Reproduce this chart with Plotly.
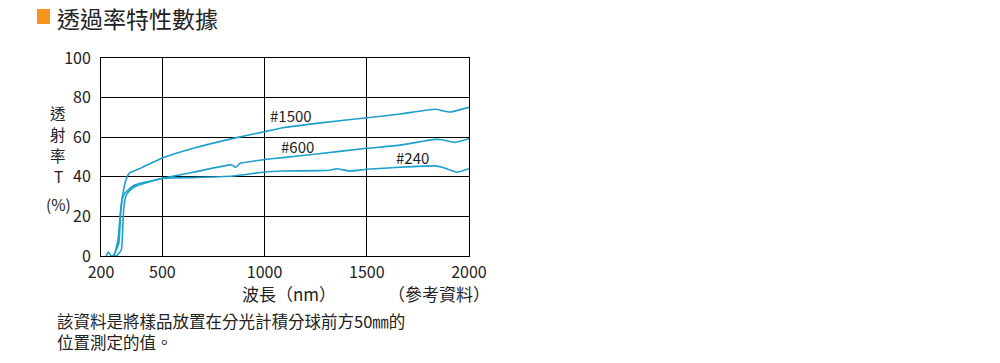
import plotly.graph_objects as go

# ---- data ----
wl_1500 = [225, 235, 250, 263, 283, 296, 308, 324, 340, 397, 500, 652, 847, 1000, 1090, 1255, 1500, 1663, 1834, 1870, 1907, 2000]
t_1500 = [0, 2, 0, 0, 8, 23, 32, 39, 42, 44.5, 49.5, 54.4, 59.4, 62.8, 64.8, 67, 69.8, 71.7, 74.1, 73.4, 72.7, 75.1]

wl_600 = [245, 259, 287, 296, 303, 316, 332, 365, 500, 652, 839, 860, 880, 1000, 1090, 1255, 1500, 1663, 1834, 1870, 1932, 2000]
t_600 = [0, 0, 6.4, 21.5, 28.3, 31.6, 33.3, 35.9, 39.2, 42.3, 46, 44.8, 46.8, 48.7, 49.7, 51.5, 54.4, 56, 58.9, 58.7, 57.4, 59.2]

wl_240 = [255, 275, 299, 308, 312, 324, 340, 365, 500, 652, 847, 1000, 1090, 1255, 1320, 1353, 1418, 1500, 1663, 1834, 1870, 1940, 2000]
t_240 = [0, 0, 3, 18, 25, 30.8, 33, 35, 39.3, 39.6, 40.4, 42.4, 42.9, 43.1, 43.3, 44.1, 42.9, 43.8, 44.8, 45.5, 44.8, 42.3, 44.1]

series = [("#1500", wl_1500, t_1500), ("#600", wl_600, t_600), ("#240", wl_240, t_240)]
label_pos = {"#1500": (1130, 71), "#600": (1163, 55.5), "#240": (1726, 50)}

x_ticks = [200, 500, 1000, 1500, 2000]
y_ticks = [0, 20, 40, 60, 80, 100]

FONT = "Noto Sans CJK TC"
LINE = "#1d9fcc"
TXT = "#222222"

# plot area in page pixels (page has an 8px body offset)
PX0, PX1, PY0, PY1 = 101, 469, 58, 256
W, H = PX1 - PX0, PY1 - PY0


def px(x):
    return (x - PX0) / W


def py(y):
    return (PY1 - y) / H


fig = go.Figure()
for name, x, y in series:
    fig.add_trace(go.Scatter(x=x, y=y, mode="lines", name=name,
                             line=dict(color=LINE, width=1.6, shape="spline", smoothing=0.4),
                             showlegend=False, hoverinfo="skip"))
    lx, ly = label_pos[name]
    fig.add_annotation(x=lx, y=ly, text=name, showarrow=False,
                       font=dict(family=FONT, size=15, color=TXT))

fig.update_xaxes(range=[200, 2000], tickvals=x_ticks, ticktext=[str(v) for v in x_ticks],
                 showgrid=True, gridcolor="black", gridwidth=1,
                 showline=True, linecolor="black", linewidth=1, mirror=True,
                 zeroline=False, ticks="outside", ticklen=2, tickcolor="rgba(0,0,0,0)",
                 tickfont=dict(family=FONT, size=16, color=TXT))
fig.update_yaxes(range=[0, 100], tickvals=y_ticks,
                 showgrid=True, gridcolor="black", gridwidth=1,
                 showline=True, linecolor="black", linewidth=1, mirror=True,
                 zeroline=False, ticks="outside", ticklen=6, tickcolor="rgba(0,0,0,0)",
                 tickfont=dict(family=FONT, size=16, color=TXT))

# title
fig.add_shape(type="rect", xref="paper", yref="paper",
              x0=px(37), x1=px(50), y0=py(24), y1=py(9),
              fillcolor="#f7941d", line=dict(width=0))
fig.add_annotation(xref="paper", yref="paper", x=px(55), y=py(18),
                   text="透過率特性數據", showarrow=False, xanchor="left", yanchor="middle",
                   font=dict(family=FONT, size=23, color=TXT))

# y axis title (stacked)
for txt, yy in [("透", 113), ("射", 134), ("率", 155), ("T", 176), ("(%)", 204)]:
    fig.add_annotation(xref="paper", yref="paper", x=px(58), y=py(yy),
                       text=txt, showarrow=False, xanchor="center", yanchor="middle",
                       font=dict(family=FONT, size=15.5, color=TXT))

# x axis titles
fig.add_annotation(xref="paper", yref="paper", x=px(289), y=py(293),
                   text="波長（nm）", showarrow=False, xanchor="center", yanchor="middle",
                   font=dict(family=FONT, size=17, color=TXT))
fig.add_annotation(xref="paper", yref="paper", x=px(492), y=py(293),
                   text="（參考資料）", showarrow=False, xanchor="right", yanchor="middle",
                   font=dict(family=FONT, size=17, color=TXT))

# note
fig.add_annotation(xref="paper", yref="paper", x=px(55), y=py(331),
                   text="該資料是將樣品放置在分光計積分球前方50㎜的<br>位置測定的值。",
                   showarrow=False, align="left",
                   xanchor="left", yanchor="middle",
                   font=dict(family=FONT, size=16.5, color=TXT))

OFF = 8
fig.update_layout(width=1000, height=363,
                  margin=dict(l=PX0 - OFF, r=1000 - (PX1 - OFF), t=PY0 - OFF, b=363 - (PY1 - OFF)),
                  plot_bgcolor="white", paper_bgcolor="white")

fig.write_html("out.html")
